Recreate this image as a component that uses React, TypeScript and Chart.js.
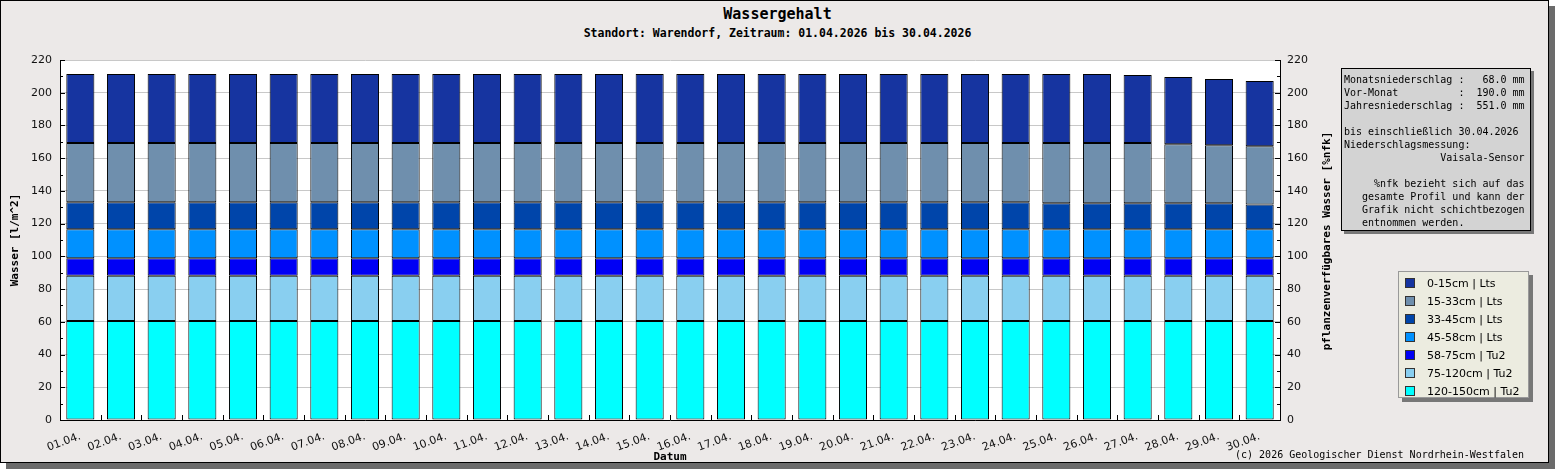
import React, { useEffect, useRef } from 'react';
import { Chart, registerables } from 'chart.js';

Chart.register(...registerables);

const days = [
  '01.04.', '02.04.', '03.04.', '04.04.', '05.04.', '06.04.', '07.04.', '08.04.', '09.04.', '10.04.',
  '11.04.', '12.04.', '13.04.', '14.04.', '15.04.', '16.04.', '17.04.', '18.04.', '19.04.', '20.04.',
  '21.04.', '22.04.', '23.04.', '24.04.', '25.04.', '26.04.', '27.04.', '28.04.', '29.04.', '30.04.',
];

// layer water contents [l/m^2], one value per day
const layer0_15 = [
  42.1, 42.1, 42.1, 42.1, 42.1, 42.1, 42.1, 42.1, 42.1, 42.1,
  42.1, 42.1, 42.1, 42.1, 42.1, 42.1, 42.1, 42.1, 42.1, 42.1,
  42.1, 42.1, 42.1, 42.1, 42.1, 42.1, 41.5, 41.1, 40.5, 39.9,
];
const layer15_33 = [
  36.2, 36.2, 36.2, 36.2, 36.2, 36.2, 36.2, 36.2, 36.2, 36.2,
  36.2, 36.2, 36.2, 36.2, 36.2, 36.2, 36.2, 36.2, 36.2, 36.2,
  36.2, 36.2, 36.2, 36.2, 36.8, 36.8, 36.8, 36.0, 35.4, 35.6,
];
const layer33_45 = [
  16.5, 16.5, 16.5, 16.5, 16.5, 16.5, 16.5, 16.5, 16.5, 16.5,
  16.5, 16.5, 16.5, 16.5, 16.5, 16.5, 16.5, 16.5, 16.5, 16.5,
  16.5, 16.5, 16.5, 16.5, 15.9, 15.9, 15.9, 15.9, 15.9, 15.1,
];
const layer45_58 = [
  17.8, 17.8, 17.8, 17.8, 17.8, 17.8, 17.8, 17.8, 17.8, 17.8,
  17.8, 17.8, 17.8, 17.8, 17.8, 17.8, 17.8, 17.8, 17.8, 17.8,
  17.8, 17.8, 17.8, 17.8, 17.8, 17.8, 17.8, 17.8, 17.8, 17.8,
];
const layer58_75 = [
  10.6, 10.6, 10.6, 10.6, 10.6, 10.6, 10.6, 10.6, 10.6, 10.6,
  10.6, 10.6, 10.6, 10.6, 10.6, 10.6, 10.6, 10.6, 10.6, 10.6,
  10.6, 10.6, 10.6, 10.6, 10.6, 10.6, 10.6, 10.6, 10.6, 10.6,
];
const layer75_120 = [
  27.7, 27.7, 27.7, 27.7, 27.7, 27.7, 27.7, 27.7, 27.7, 27.7,
  27.7, 27.7, 27.7, 27.7, 27.7, 27.7, 27.7, 27.7, 27.7, 27.7,
  27.7, 27.7, 27.7, 27.7, 27.7, 27.7, 27.7, 27.7, 27.7, 27.7,
];
const layer120_150 = [
  60.5, 60.5, 60.5, 60.5, 60.5, 60.5, 60.5, 60.5, 60.5, 60.5,
  60.5, 60.5, 60.5, 60.5, 60.5, 60.5, 60.5, 60.5, 60.5, 60.5,
  60.5, 60.5, 60.5, 60.5, 60.5, 60.5, 60.5, 60.5, 60.5, 60.5,
];

const layerLabels = [
  '0-15cm | Lts', '15-33cm | Lts', '33-45cm | Lts', '45-58cm | Lts',
  '58-75cm | Tu2', '75-120cm | Tu2', '120-150cm | Tu2',
];
const layerColors = ['#1634A0', '#6F8FAD', '#0045AA', '#0091FF', '#0000F5', '#89CFF0', '#00FFFF'];
const layerData = [layer0_15, layer15_33, layer33_45, layer45_58, layer58_75, layer75_120, layer120_150];

const yTicksMax = 220;
const yStep = 20;

const infoLines = [
  'Monatsniederschlag :   68.0 mm',
  'Vor-Monat          :  190.0 mm',
  'Jahresniederschlag :  551.0 mm',
  '',
  'bis einschließlich 30.04.2026',
  'Niederschlagsmessung:',
  '                Vaisala-Sensor',
  '',
  '     %nfk bezieht sich auf das',
  '   gesamte Profil und kann der',
  '   Grafik nicht schichtbezogen',
  '   entnommen werden.',
];

const MONO = '"DejaVu Sans Mono", monospace';
const SANS = '"DejaVu Sans", sans-serif';

export default function App() {
  const ref = useRef<HTMLCanvasElement>(null);

  useEffect(() => {
    document.body.style.margin = '0';
    const canvas = ref.current;
    if (!canvas) return;

    const decor = {
      id: 'decor',
      beforeDraw(chart: any) {
        const { ctx, chartArea: a } = chart;
        ctx.save();
        ctx.fillStyle = '#ffffff';
        ctx.fillRect(a.left, a.top, a.right - a.left, a.bottom - a.top);
        ctx.restore();
      },
      afterDatasetsDraw(chart: any) {
        const { ctx, chartArea: a } = chart;
        const y = chart.scales.y;
        const x = chart.scales.x;
        ctx.save();
        ctx.strokeStyle = '#000';
        ctx.lineWidth = 1;
        for (let v = 0; v <= yTicksMax; v += yStep / 2) {
          const py = Math.round(y.getPixelForValue(v)) + 0.5;
          const len = v % yStep === 0 ? 5 : 3;
          ctx.beginPath();
          ctx.moveTo(a.left, py);
          ctx.lineTo(a.left + len, py);
          ctx.moveTo(a.right, py);
          ctx.lineTo(a.right - len, py);
          ctx.stroke();
        }
        for (let i = 1; i < days.length; i++) {
          const px = Math.round((x.getPixelForValue(i - 1) + x.getPixelForValue(i)) / 2) + 0.5;
          ctx.beginPath();
          ctx.moveTo(px, a.bottom);
          ctx.lineTo(px, a.bottom - 5);
          ctx.stroke();
        }
        ctx.fillStyle = '#000';
        ctx.font = 'bold 11px ' + MONO;
        ctx.textAlign = 'center';
        ctx.textBaseline = 'middle';
        const cy = (a.top + a.bottom) / 2;
        ctx.save();
        ctx.translate(15, cy);
        ctx.rotate(-Math.PI / 2);
        ctx.fillText('Wasser [l/m^2]', 0, 0);
        ctx.restore();
        ctx.save();
        ctx.translate(1327, cy + 1);
        ctx.rotate(-Math.PI / 2);
        ctx.fillText('pflanzenverfügbares Wasser [%nfk]', 0, 0);
        ctx.restore();
        ctx.fillText('Datum', (a.left + a.right) / 2, 457);
        ctx.restore();
      },
    };

    const datasets = layerData
      .map((d, i) => ({
        label: layerLabels[i],
        data: d,
        backgroundColor: layerColors[i],
        borderColor: '#000',
        borderWidth: 1,
        borderSkipped: false as any,
        barPercentage: 0.69,
        categoryPercentage: 1.0,
        stack: 's',
      }))
      .reverse();

    const tickFont = { family: SANS, size: 11 };

    const chart = new Chart(canvas, {
      type: 'bar',
      data: { labels: days, datasets },
      options: {
        responsive: false,
        animation: false,
        layout: { padding: { left: 0, top: 60, right: 219, bottom: 0 } },
        plugins: { legend: { display: false }, tooltip: { enabled: false }, title: { display: false } },
        scales: {
          x: {
            stacked: true,
            grid: { display: false },
            border: { display: true, color: '#000', width: 1 },
            ticks: {
              autoSkip: false,
              minRotation: 20,
              maxRotation: 20,
              padding: 2,
              color: '#111',
              font: tickFont,
            },
            afterFit: (s: any) => { s.height = 43; },
          },
          y: {
            stacked: true,
            min: 0,
            max: yTicksMax,
            ticks: { stepSize: yStep, padding: 8, color: '#111', font: tickFont },
            grid: { color: '#c8c8c8', drawTicks: false },
            border: { display: true, color: '#000', width: 1 },
            afterFit: (s: any) => { s.width = 60; },
          },
          y1: {
            position: 'right',
            min: 0,
            max: yTicksMax,
            ticks: { stepSize: yStep, padding: 7, color: '#111', font: tickFont },
            grid: { drawOnChartArea: false, drawTicks: false },
            border: { display: true, color: '#000', width: 1 },
            afterFit: (s: any) => { s.width = 50; },
          },
        },
      } as any,
      plugins: [decor],
    });
    return () => chart.destroy();
  }, []);

  return (
    <div style={{ position: 'absolute', left: 0, top: 0, width: 1555, height: 470, background: '#fff', overflow: 'hidden' }}>
      <div
        style={{
          position: 'absolute', left: 0, top: 0, width: 1549, height: 463,
          boxSizing: 'border-box', border: '1px solid #000', background: '#ECE9E8',
          boxShadow: '6px 6px 0 #6b6b6b',
        }}
      />
      <div style={{ position: 'absolute', left: 0, top: 5, width: 1555, textAlign: 'center', font: 'bold 15px ' + MONO, lineHeight: '18px', color: '#000' }}>
        Wassergehalt
      </div>
      <div style={{ position: 'absolute', left: 0, top: 26, width: 1555, textAlign: 'center', font: 'bold 11.5px ' + MONO, lineHeight: '14px', color: '#000' }}>
        Standort: Warendorf, Zeitraum: 01.04.2026 bis 30.04.2026
      </div>
      <canvas ref={ref} width={1549} height={463} style={{ position: 'absolute', left: 0, top: 0 }} />
      <div
        style={{
          position: 'absolute', left: 1341, top: 68, width: 190, height: 163, boxSizing: 'border-box',
          border: '1px solid #000', background: '#D3D3D3', boxShadow: '3px 3px 0 #777',
          padding: '4px 0 0 2px', font: '10px ' + MONO, lineHeight: '13px', whiteSpace: 'pre', color: '#000',
        }}
      >
        {infoLines.map((l, i) => (
          <div key={i} style={{ height: 13 }}>{l}</div>
        ))}
      </div>
      <div
        style={{
          position: 'absolute', left: 1398, top: 271, width: 131, height: 127, boxSizing: 'border-box',
          border: '1px solid #999', background: '#ECECE0', boxShadow: '4px 4px 0 #777',
        }}
      >
        {layerLabels.map((l, i) => (
          <div key={i} style={{ position: 'absolute', left: 6, top: 5 + i * 18, height: 12, display: 'flex', alignItems: 'center' }}>
            <div style={{ width: 10, height: 10, background: layerColors[i], border: '1px solid #333', boxSizing: 'border-box' }} />
            <div style={{ marginLeft: 12, font: '11px ' + SANS, color: '#000', whiteSpace: 'pre' }}>{l}</div>
          </div>
        ))}
      </div>
      <div style={{ position: 'absolute', right: 1555 - 1524, top: 449, font: '10px ' + MONO, lineHeight: '12px', color: '#000', whiteSpace: 'pre' }}>
        (c) 2026 Geologischer Dienst Nordrhein-Westfalen
      </div>
    </div>
  );
}
